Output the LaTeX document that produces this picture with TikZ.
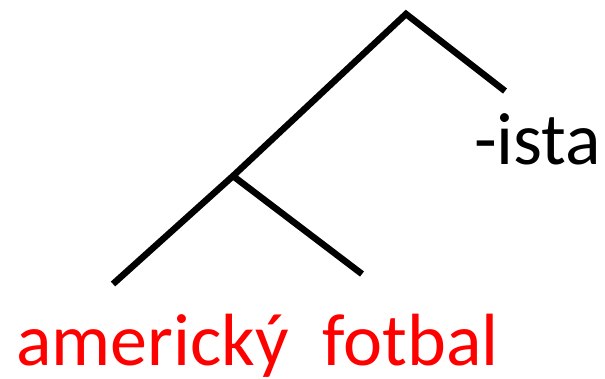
\documentclass[tikz,border=0pt]{standalone}
\usepackage{fontspec}
\setmainfont{Carlito}
\begin{document}
\begin{tikzpicture}[x=1pt,y=-1pt,
  branch/.style={line width=6.5pt,line join=miter,line cap=butt},
  lbl/.style={inner sep=0pt,font=\fontsize{74}{74}\selectfont}]
\useasboundingbox (0,0) rectangle (605,378);
\coordinate (top) at (406,14);
\coordinate (mid) at (233,176);
\coordinate (leftend) at (113,284);
\coordinate (rightend) at (362,274);
\coordinate (istaend) at (505,91);
\draw[branch] (leftend) -- (mid) -- (top) -- (istaend);
\draw[branch] (mid) -- (rightend);
\node[lbl,anchor=base west] (ista) at (474,164) {-ista};
\node[lbl,anchor=base west,text=red] (af) at (16,365) {americký\ \ fotbal};
\end{tikzpicture}
\end{document}
